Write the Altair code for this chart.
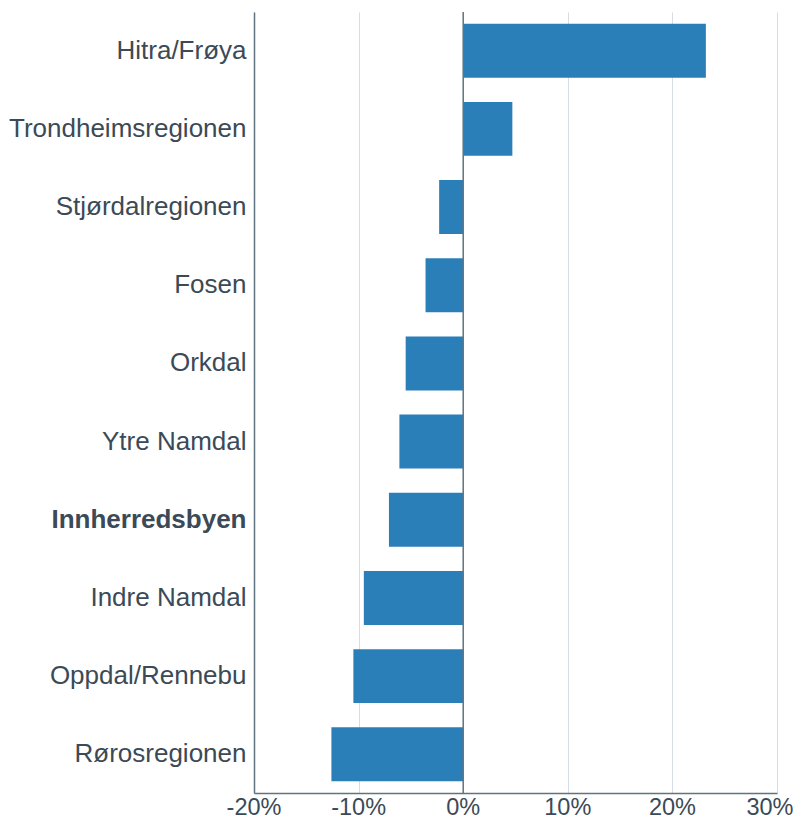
import altair as alt
import pandas as pd

regions = ["Hitra/Frøya", "Trondheimsregionen", "Stjørdalregionen", "Fosen", "Orkdal",
           "Ytre Namdal", "Innherredsbyen", "Indre Namdal", "Oppdal/Rennebu", "Rørosregionen"]
values = [23.2, 4.7, -2.3, -3.6, -5.5, -6.1, -7.1, -9.5, -10.5, -12.6]
ticks = [-0.2, -0.1, 0, 0.1, 0.2, 0.3]
tick_labels = ["-20%", "-10%", "0%", "10%", "20%", "30%"]

df = pd.DataFrame({"region": regions, "value": [v / 100 for v in values]})
tdf = pd.DataFrame({"t": ticks, "label": tick_labels})

text_color = "#3b4a56"
axis_color = "#5f7380"
H = 781

xscale = alt.Scale(domain=[-0.2, 0.3], nice=False)

bars = alt.Chart(df).mark_bar(color="#2a7fb8").encode(
    x=alt.X("value:Q", scale=xscale,
            axis=alt.Axis(values=ticks, title=None, labels=False,
                          ticks=False, domain=True, domainColor=axis_color, domainWidth=1.5,
                          grid=True, gridColor="#d5dce3", gridWidth=1)),
    y=alt.Y("region:N", sort=regions,
            scale=alt.Scale(paddingInner=0.31, paddingOuter=0.15),
            axis=alt.Axis(title=None, labelFontSize=26, labelColor=text_color,
                          labelFont="Liberation Sans", ticks=False, domain=True,
                          domainColor=axis_color, domainWidth=1.5, grid=False,
                          labelPadding=8, labelLimit=400,
                          labelFontWeight=alt.expr("datum.value == 'Innherredsbyen' ? 'bold' : 'normal'"))),
)

zero = alt.Chart(pd.DataFrame({"z": [0]})).mark_rule(color=axis_color, strokeWidth=1.5).encode(
    x="z:Q"
)

tick_text = alt.Chart(tdf).mark_text(
    baseline="top", align="center", fontSize=23.5, font="Liberation Sans", color=text_color
).encode(
    x=alt.X("t:Q", scale=xscale),
    y=alt.value(H + 3),
    xOffset=alt.value(0),
    text="label:N",
)

tick_main = tick_text.transform_filter("datum.t < 0.25")
tick_last = tick_text.transform_filter("datum.t > 0.25").mark_text(
    baseline="top", align="center", fontSize=23.5, font="Liberation Sans", color=text_color, dx=-7
)

chart = (bars + zero + tick_main + tick_last).properties(
    width=523, height=H,
    autosize=alt.AutoSizeParams(type="none"),
    padding={"top": 4, "left": 246, "right": 17, "bottom": 28},
).configure_view(stroke=None)

chart.save("out.html", embed_options={"renderer": "svg", "actions": False})
